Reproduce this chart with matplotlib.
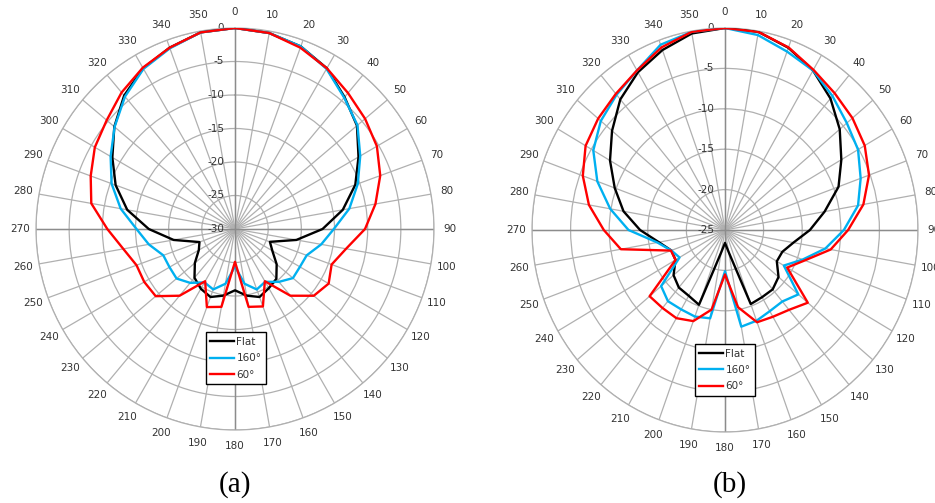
import numpy as np
import matplotlib.pyplot as plt
from matplotlib.transforms import offset_copy

angles = list(range(0, 360, 10))

# (a) -- values in dB, one per 10 degrees starting at 0
flat_a = [0, -0.3, -1.0, -2.3, -4.3, -6.0, -8.5, -10.7, -13.5, -16.8,
          -20.6, -24.4, -23.5, -21.8, -20.3, -19.8, -19.2, -19.9, -20.85, -19.9,
          -19.2, -19.7, -20.5, -22.1, -23.7, -24.3, -20.6, -17.0, -13.5, -10.85,
          -8.65, -6.25, -4.0, -2.3, -1.2, -0.2]
deg160_a = [0, -0.3, -1.0, -2.4, -4.4, -5.9, -8.2, -10.3, -12.5, -15.1,
            -16.8, -18.5, -18.7, -18.6, -19.7, -20.9, -20.4, -21.7, -24.4, -21.7,
            -20.4, -20.8, -19.5, -18.5, -18.6, -18.5, -16.8, -15.15, -12.5, -10.2,
            -8.35, -6.3, -4.2, -2.4, -1.3, -0.2]
deg60_a = [0, -0.3, -1.2, -2.3, -3.5, -4.4, -5.3, -6.7, -8.5, -10.4,
           -13.0, -14.5, -13.7, -14.5, -17.0, -21.0, -17.7, -18.2, -25.1, -18.2,
           -17.6, -21.0, -17.0, -14.4, -14.2, -14.2, -12.9, -10.75, -8.0, -6.85,
           -5.6, -4.75, -3.4, -2.2, -1.2, -0.2]

# (b)
flat_b = [0, -0.1, -1.0, -2.2, -3.75, -5.6, -7.6, -9.35, -11.9, -14.0,
          -16.0, -17.1, -17.25, -15.95, -15.4, -15.4, -15.25, -22.2, -23.4, -22.2,
          -15.15, -15.6, -15.7, -16.3, -17.6, -17.6, -16.3, -14.0, -11.65, -9.8,
          -7.8, -5.9, -3.9, -2.45, -1.3, -0.3]
deg160_b = [0, -0.5, -1.5, -2.2, -3.35, -4.4, -5.1, -6.3, -7.5, -9.6,
            -11.8, -14.3, -16.2, -12.6, -13.45, -13.4, -13.05, -12.85, -19.9, -13.9,
            -13.6, -13.65, -13.5, -14.2, -18.2, -17.6, -16.1, -12.5, -9.9, -7.4,
            -5.3, -4.0, -3.15, -2.2, -0.6, -0.1]
deg60_b = [0, -0.1, -0.95, -2.1, -2.9, -3.45, -4.1, -5.15, -6.8, -9.05,
           -11.1, -14.0, -15.7, -11.0, -12.1, -12.6, -12.85, -15.3, -19.5, -15.0,
           -13.0, -12.4, -12.4, -12.25, -17.6, -17.55, -11.3, -9.3, -7.1, -5.4,
           -4.15, -3.55, -3.0, -2.2, -0.95, -0.1]

labels = ["Flat", "160°", "60°"]
colors = ["black", "#00b0f0", "#ff0000"]

fig = plt.figure(figsize=(9.35, 5.03), dpi=100)


def radar(rect, series, rmin, caption, cap_x, leg_xy):
    ax = fig.add_axes(rect, projection='polar')
    ax.set_aspect('auto')
    ax.set_theta_zero_location('N')
    ax.set_theta_direction(-1)
    ax.set_axisbelow(True)

    th = np.deg2rad(angles + [360])
    for vals, c, lab in zip(series, colors, labels):
        ax.plot(th, vals + [vals[0]], color=c, lw=1.7, label=lab, zorder=3)

    ax.set_ylim(rmin, 0)
    ax.set_yticks(np.arange(rmin, 1, 5))
    ax.set_yticklabels([])
    ax.set_xticks(np.deg2rad(angles))
    ax.set_xticklabels([str(a) for a in angles], fontsize=7.5, color='#333333')
    ax.tick_params(axis='x', pad=1)
    ax.grid(True, color='#b0b0b0', lw=0.9)
    ax.spines['polar'].set_color('#b0b0b0')
    ax.spines['polar'].set_linewidth(0.9)

    for a in [0, 90, 180, 270]:
        ax.plot([np.deg2rad(a)] * 2, [rmin, 0], color='#8c8c8c', lw=1.0, zorder=1)

    tr = offset_copy(ax.transData, fig=fig, x=-11, y=0, units='dots')
    for v in range(rmin, 1, 5):
        ax.text(0, v, str(v), transform=tr, ha='right', va='center',
                fontsize=7.5, color='#333333', zorder=2)

    leg = ax.legend(loc='center', bbox_to_anchor=leg_xy, bbox_transform=fig.transFigure,
                    fontsize=7.5, frameon=True, fancybox=False, framealpha=1,
                    edgecolor='black', handlelength=2.3, handletextpad=0.2,
                    labelspacing=0.6, borderpad=0.45)
    leg.get_frame().set_linewidth(1.0)
    for t in leg.get_texts():
        t.set_color('#333333')

    fig.text(cap_x, 0.036, caption, ha='center', va='center', fontsize=21,
             family='Liberation Serif')
    return ax


radar([36 / 935, 1 - (229 + 201) / 503, 398 / 935, 402 / 503],
      [flat_a, deg160_a, deg60_a], -30, "(a)", 235 / 935, (0.2522, 0.2877))
radar([532 / 935, 1 - (230 + 202) / 503, 386 / 935, 404 / 503],
      [flat_b, deg160_b, deg60_b], -25, "(b)", 730 / 935, (0.7752, 0.2644))

plt.savefig("out.png", dpi=100)
